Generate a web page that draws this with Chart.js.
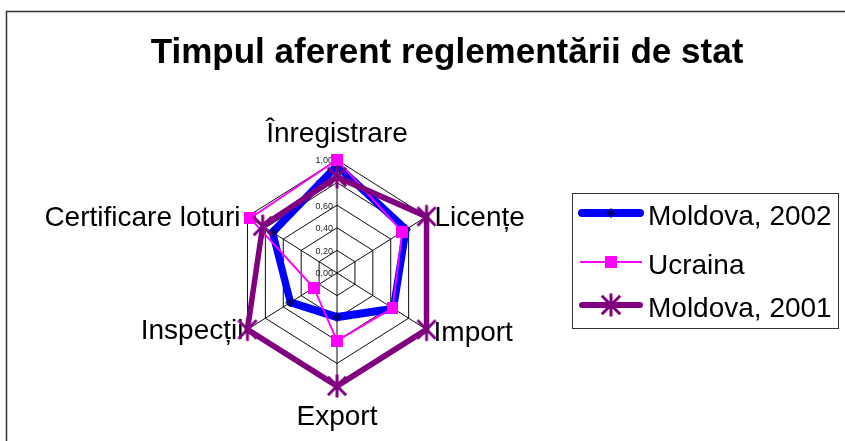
<!DOCTYPE html>
<html>
<head>
<meta charset="utf-8">
<script src="https://cdn.jsdelivr.net/npm/chart.js@4.4.0/dist/chart.umd.min.js"></script>
<style>
html,body{margin:0;padding:0;background:#fff;}
canvas{display:block;}
</style>
</head>
<body>
<canvas id="c" width="845" height="441"></canvas>
<script>
const titleText = 'Timpul aferent reglementării de stat';
const categories = ['Înregistrare', 'Licențe', 'Import', 'Export', 'Inspecții', 'Certificare loturi'];
const seriesNames = ['Moldova, 2002', 'Ucraina', 'Moldova, 2001'];
const moldova2002 = [0.95, 0.77, 0.63, 0.39, 0.52, 0.72];
const ucraina = [1.00, 0.73, 0.62, 0.60, 0.26, 0.97];
const moldova2001 = [0.85, 1.00, 1.00, 1.00, 1.00, 0.83];
const tickValues = [0, 0.2, 0.4, 0.6, 0.8, 1.0];
const tickLabels = ['0,00', '0,20', '0,40', '0,60', '0,80', '1,00'];

const FONT = "'Liberation Sans', Arial, sans-serif";
const BLUE = '#0000FF', NAVY = '#000080', MAGENTA = '#FF00FF', PURPLE = '#800080';
const SX = 0.915; // horizontal squeeze of the plot (reference plot is not isotropic)

function makeMarker(kind, stretch) {
  const size = kind === 2 ? 26 : (kind === 1 ? 12 : 10);
  const w = Math.round(size * stretch);
  const c = document.createElement('canvas');
  c.width = w; c.height = size;
  const g = c.getContext('2d');
  g.scale(w / size, 1);
  const m = size / 2;
  if (kind === 0) {
    g.fillStyle = NAVY;
    g.beginPath();
    g.moveTo(m, 0); g.lineTo(size, m); g.lineTo(m, size); g.lineTo(0, m);
    g.closePath(); g.fill();
  } else if (kind === 1) {
    g.fillStyle = MAGENTA;
    g.fillRect(0, 0, size, size);
  } else {
    const lw = 3, r = m - lw / 2;
    g.strokeStyle = PURPLE; g.lineWidth = lw;
    g.beginPath();
    g.moveTo(m, m - r); g.lineTo(m, m + r);
    const d = r * 0.8;
    g.moveTo(m - d, m - d); g.lineTo(m + d, m + d);
    g.moveTo(m + d, m - d); g.lineTo(m - d, m + d);
    g.stroke();
  }
  return c;
}
const plotMarkers = [makeMarker(0, 1 / SX), makeMarker(1, 1 / SX), makeMarker(2, 1 / SX)];
const legendMarkers = [makeMarker(0, 1), makeMarker(1, 1), makeMarker(2, 1)];

function squeeze(chart) {
  const s = chart.scales.r;
  const ctx = chart.ctx;
  ctx.save();
  ctx.translate(s.xCenter, 0);
  ctx.scale(SX, 1);
  ctx.translate(-s.xCenter, 0);
}

const decor = {
  id: 'decor',
  beforeDraw(chart) {
    squeeze(chart);
  },
  beforeDatasetsDraw(chart) {
    const ctx = chart.ctx;
    ctx.restore();
    const s = chart.scales.r;
    const R = s.drawingArea;
    ctx.save();
    // tick labels
    ctx.font = '9px ' + FONT;
    ctx.fillStyle = '#222';
    ctx.textAlign = 'right';
    ctx.textBaseline = 'middle';
    tickValues.forEach((v, i) => {
      const d = s.getDistanceFromCenterForValue(v);
      ctx.fillText(tickLabels[i], s.xCenter - 4, s.yCenter - d + 1);
    });
    // point labels
    ctx.font = '28px ' + FONT;
    ctx.fillStyle = '#000';
    ctx.textBaseline = 'alphabetic';
    const offs = [[0, -18], [8, 9], [7, 11], [0, 39], [-4, 9], [-7, 9]];
    categories.forEach((lab, i) => {
      const p = s.getPointPosition(i, R);
      const px = s.xCenter + (p.x - s.xCenter) * SX;
      const align = (i === 0 || i === 3) ? 'center' : (i < 3 ? 'left' : 'right');
      ctx.textAlign = align;
      ctx.fillText(lab, px + offs[i][0], p.y + offs[i][1]);
    });
    ctx.restore();
    squeeze(chart);
  },
  afterDatasetsDraw(chart) {
    chart.ctx.restore();
  },
  afterDraw(chart) {
    const ctx = chart.ctx;
    ctx.save();
    // outer border
    ctx.strokeStyle = '#333';
    ctx.lineWidth = 1.5;
    ctx.beginPath();
    ctx.moveTo(6.5, 445); ctx.lineTo(6.5, 11.5); ctx.lineTo(850, 11.5);
    ctx.stroke();
    // title
    ctx.font = 'bold 35px ' + FONT;
    ctx.fillStyle = '#000';
    ctx.textAlign = 'center';
    ctx.textBaseline = 'alphabetic';
    ctx.fillText(titleText, 447, 63);
    // legend
    ctx.strokeStyle = '#333';
    ctx.lineWidth = 1;
    ctx.strokeRect(572.5, 193.5, 266, 135);
    const rows = [213, 262, 305];
    const widths = [8, 2, 6];
    const cols = [BLUE, MAGENTA, PURPLE];
    ctx.font = '28px ' + FONT;
    ctx.textAlign = 'left';
    rows.forEach((y, i) => {
      ctx.strokeStyle = cols[i];
      ctx.lineWidth = widths[i];
      ctx.lineCap = i === 1 ? 'butt' : 'round';
      ctx.beginPath();
      ctx.moveTo(i === 1 ? 580 : 582, y); ctx.lineTo(i === 1 ? 642 : 640, y);
      ctx.stroke();
      const m = legendMarkers[i];
      ctx.drawImage(m, 611 - m.width / 2, y - m.height / 2);
      ctx.fillStyle = '#000';
      ctx.fillText(seriesNames[i], 648, y + 12);
    });
    ctx.restore();
  }
};

new Chart(document.getElementById('c'), {
  type: 'radar',
  data: {
    labels: categories,
    datasets: [
      {
        label: seriesNames[0], data: moldova2002, order: 3,
        borderColor: BLUE, borderWidth: 8, fill: false, tension: 0,
        pointStyle: plotMarkers[0], pointRadius: 5, clip: false
      },
      {
        label: seriesNames[1], data: ucraina, order: 2,
        borderColor: MAGENTA, borderWidth: 2, fill: false, tension: 0,
        pointStyle: plotMarkers[1], pointRadius: 6, clip: false
      },
      {
        label: seriesNames[2], data: moldova2001, order: 1,
        borderColor: PURPLE, borderWidth: 6, fill: false, tension: 0,
        pointStyle: plotMarkers[2], pointRadius: 13, clip: false
      }
    ]
  },
  options: {
    responsive: false,
    animation: false,
    devicePixelRatio: 1,
    events: [],
    layout: { padding: { left: 224, right: 395, top: 160, bottom: 55 } },
    plugins: { legend: { display: false }, title: { display: false }, tooltip: { enabled: false } },
    scales: {
      r: {
        min: 0, max: 1,
        ticks: { stepSize: 0.2, display: false },
        grid: { color: '#000', lineWidth: 1 },
        angleLines: { color: '#000', lineWidth: 1 },
        pointLabels: { display: false }
      }
    }
  },
  plugins: [decor]
});
</script>
</body>
</html>
